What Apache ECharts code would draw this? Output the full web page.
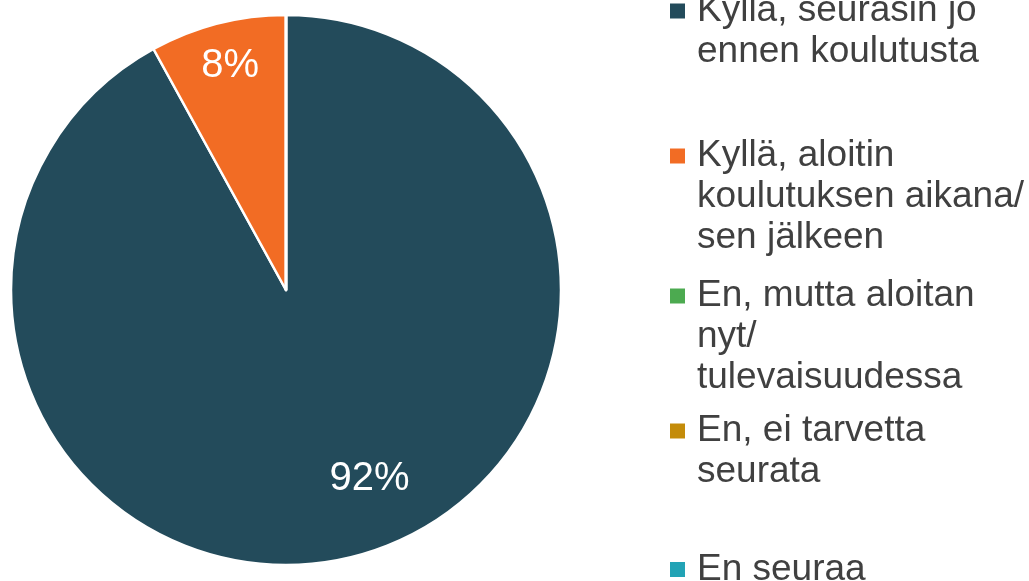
<!DOCTYPE html>
<html>
<head>
<meta charset="utf-8">
<script src="https://cdn.jsdelivr.net/npm/echarts@6/dist/echarts.min.js"></script>
<style>
html,body{margin:0;padding:0;background:#fff;}
#chart{width:1029px;height:581px;}
</style>
</head>
<body>
<div id="chart"></div>
<script>
var categories = [
  'Kyllä, seurasin jo ennen koulutusta',
  'Kyllä, aloitin koulutuksen aikana/ sen jälkeen',
  'En, mutta aloitan nyt/ tulevaisuudessa',
  'En, ei tarvetta seurata',
  'En seuraa'
];
var legendLines = [
  ['Kyllä, seurasin jo', 'ennen koulutusta'],
  ['Kyllä, aloitin', 'koulutuksen aikana/', 'sen jälkeen'],
  ['En, mutta aloitan', 'nyt/', 'tulevaisuudessa'],
  ['En, ei tarvetta', 'seurata'],
  ['En seuraa']
];
var values = [92, 8, 0, 0, 0];
var colors = ['#234B5B', '#F26C24', '#4CAA50', '#C48C0A', '#22A3B5'];

var legendTops = [-50.5, 53.5, 193.5, 369.5, 549];
var LH = 41;

var legends = categories.map(function (name, i) {
  var n = legendLines[i].length;
  return {
    data: [name],
    orient: 'vertical',
    left: 670,
    top: legendTops[i],
    padding: 0,
    icon: 'rect',
    itemWidth: 15,
    itemHeight: 15,
    selectedMode: false,
    itemStyle: { borderWidth: 0 },
    formatter: function () {
      // leading blank lines keep the first text line level with the marker
      return new Array(n).join('\n') + legendLines[i].join('\n');
    },
    textStyle: {
      fontFamily: 'Liberation Sans, Arial, sans-serif',
      fontSize: 37,
      lineHeight: LH,
      color: '#404040',
      padding: [0, 0, 0, 7]
    }
  };
});

// label placement tweaks (horizontal padding, vertical shift via blank lines)
var labelCfg = [
  { padding: [0, 0, 0, 97], lineHeight: 53, before: 2, after: 0 },
  { padding: [0, 42, 0, 0], lineHeight: 88, before: 0, after: 2 },
  null, null, null
];

var data = categories.map(function (name, i) {
  var cfg = labelCfg[i];
  var item = {
    name: name,
    value: values[i],
    itemStyle: { color: colors[i] },
    label: { show: values[i] > 0 }
  };
  if (cfg) {
    item.label.padding = cfg.padding;
    item.label.lineHeight = cfg.lineHeight;
    item.label.formatter = function (p) {
      return new Array(cfg.before + 1).join('\n') + Math.round(p.percent) + '%' + new Array(cfg.after + 1).join('\n');
    };
  }
  return item;
});

var chart = echarts.init(document.getElementById('chart'), null, { renderer: 'canvas' });
chart.setOption({
  backgroundColor: '#ffffff',
  animation: false,
  legend: legends,
  series: [{
    type: 'pie',
    center: [286, 290],
    radius: [0, 275],
    startAngle: 90,
    clockwise: true,
    silent: true,
    itemStyle: { borderColor: '#ffffff', borderWidth: 2.5 },
    label: {
      position: 'inside',
      color: '#ffffff',
      fontFamily: 'Liberation Sans, Arial, sans-serif',
      fontSize: 40
    },
    labelLine: { show: false },
    emphasis: { disabled: true },
    data: data
  }]
});
</script>
</body>
</html>
